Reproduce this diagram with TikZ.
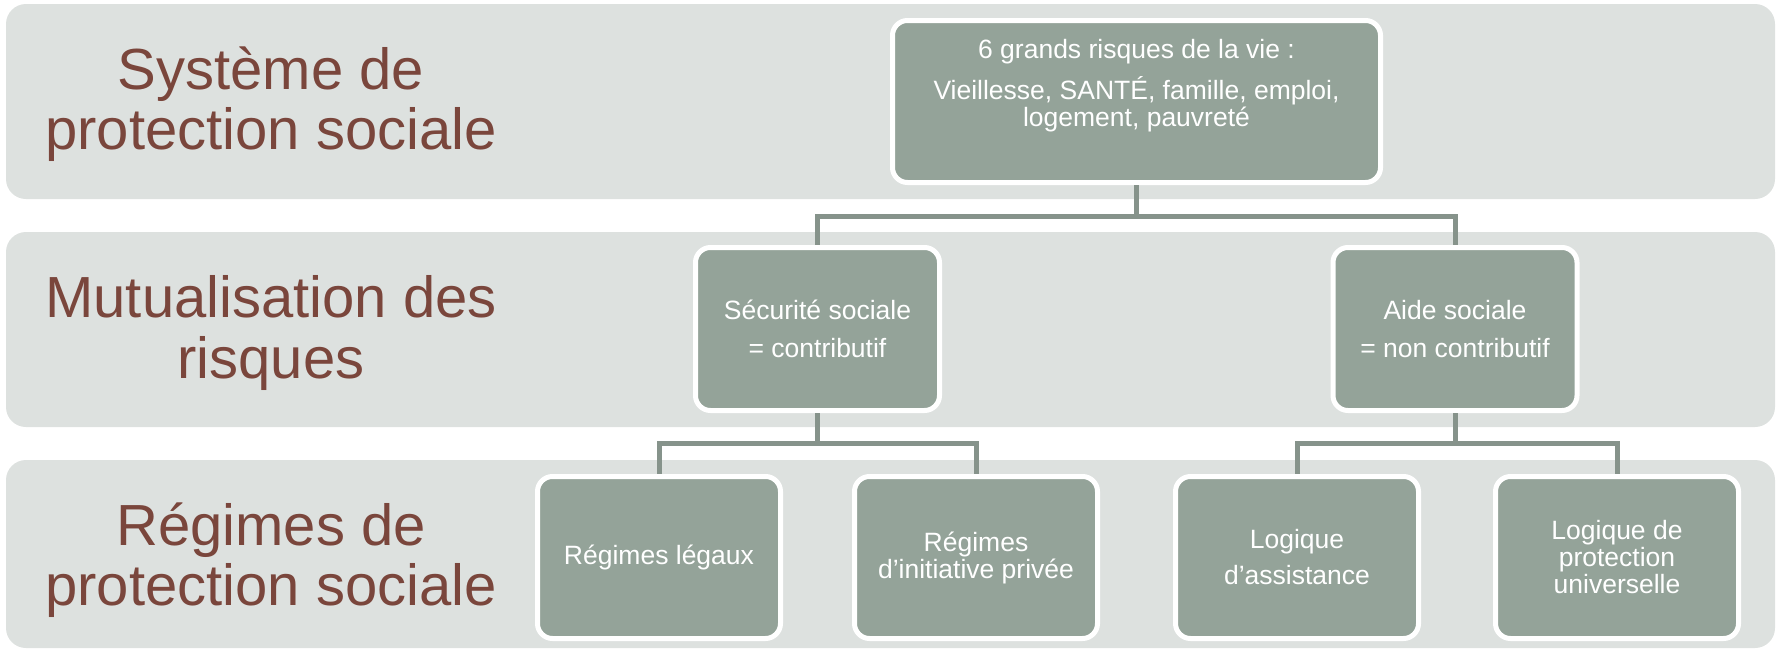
\documentclass[tikz,border=0pt]{standalone}
\usepackage{fontspec}
\setmainfont{Liberation Sans}
\definecolor{bandcol}{RGB}{221,225,223}
\definecolor{boxcol}{RGB}{148,163,153}
\definecolor{conncol}{RGB}{134,147,139}
\definecolor{labelbrown}{RGB}{122,70,60}
\tikzset{
  bandfill/.style={fill=bandcol, rounded corners=20pt},
  rowlabel/.style={text=labelbrown, align=center, font=\fontsize{58}{60.5}\selectfont, inner sep=0pt},
  boxnode/.style={draw=white, line width=5pt, fill=boxcol, rounded corners=15pt, text=white,
    align=center, font=\fontsize{26.5}{27}\selectfont, inner sep=0pt,
    minimum height=162pt, minimum width=243pt},
  conn/.style={draw=conncol, line width=5pt},
}
\begin{document}
\begin{tikzpicture}[x=1pt,y=-1pt]
\useasboundingbox (0,0) rectangle (1781,651);
% bands
\fill[bandfill] (6,4) rectangle (1775,199);
\fill[bandfill] (6,232) rectangle (1775,427);
\fill[bandfill] (6,460) rectangle (1775,648);
% row labels
\node[rowlabel] (l1) at (271,104) {Système de\\protection sociale};
\node[rowlabel] (l2) at (271,333) {Mutualisation des\\risques};
\node[rowlabel] (l3) at (271,560) {Régimes de\\protection sociale};
% boxes
\node[boxnode, minimum width=488pt] (top) at (1136.5,101.5)
  {\parbox[c][157pt][t]{480pt}{\centering\vspace*{16pt}6 grands risques de la vie :\\[12pt]Vieillesse, SANTÉ, famille, emploi,\\logement, pauvreté}};
\node[boxnode, minimum height=163pt, minimum width=244pt] (ss) at (817.5,329) {Sécurité sociale\\[11pt]= contributif};
\node[boxnode, minimum height=163pt, minimum width=244pt] (as) at (1455,329) {Aide sociale\\[11pt]= non contributif};
\node[boxnode] (rl) at (659,557.5) {Régimes légaux};
\node[boxnode] (rp) at (976,557.5) {Régimes\\d’initiative privée};
\node[boxnode] (la) at (1297,557.5) {Logique\\[9pt]d’assistance};
\node[boxnode] (lp) at (1617,557.5) {Logique de\\protection\\universelle};
% connectors
\draw[conn] (top.south) -- ++(0,31) -| (ss.north);
\draw[conn] (top.south) -- ++(0,31) -| (as.north);
\draw[conn] (ss.south) -- ++(0,30) -| (rl.north);
\draw[conn] (ss.south) -- ++(0,30) -| (rp.north);
\draw[conn] (as.south) -- ++(0,30) -| (la.north);
\draw[conn] (as.south) -- ++(0,30) -| (lp.north);
\end{tikzpicture}
\end{document}
